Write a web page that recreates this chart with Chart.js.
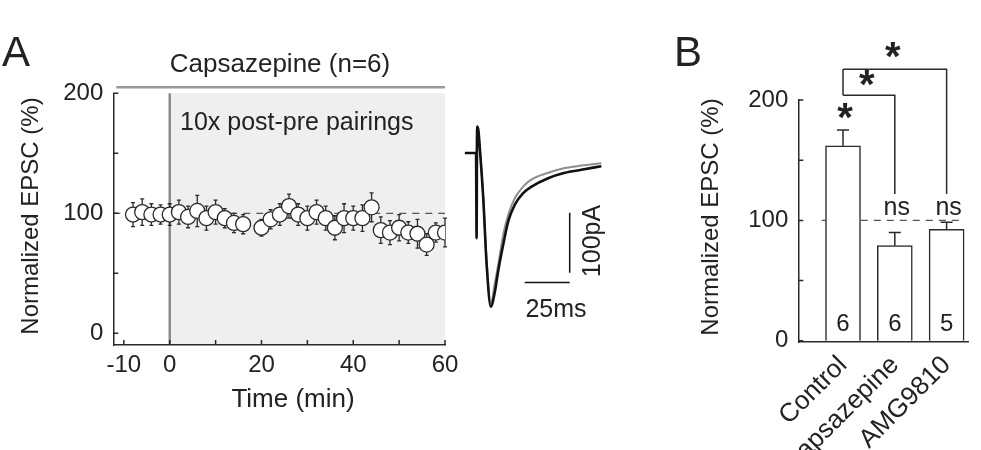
<!DOCTYPE html>
<html>
<head>
<meta charset="utf-8">
<script src="https://cdn.jsdelivr.net/npm/chart.js@4.4.1/dist/chart.umd.min.js"></script>
<style>
  body { margin: 0; background: #fff; width: 981px; height: 450px; overflow: hidden; position: relative;
         font-family: "Liberation Sans", Arial, sans-serif; color: #222; }
  canvas { position: absolute; }
  .t { position: absolute; white-space: nowrap; line-height: 1; transform: translate(-50%, -50%); }
  .v { transform: translate(-50%, -50%) rotate(-90deg); }
</style>
</head>
<body>
<canvas id="timeChart" width="475" height="450" style="left:0;top:0"></canvas>
<canvas id="traceChart" width="142" height="189" style="left:464px;top:123px"></canvas>
<canvas id="barChart" width="341" height="450" style="left:640px;top:0"></canvas>

<div class="t" style="left:16px;top:52px;font-size:42px">A</div>
<div class="t" style="left:688px;top:52px;font-size:42px">B</div>
<div class="t" style="left:280px;top:63px;font-size:26px">Capsazepine (n=6)</div>
<div class="t" style="left:180px;top:121px;font-size:25px;transform:translate(0,-50%)">10x post-pre pairings</div>
<div class="t v" style="left:30px;top:216px;font-size:24px">Normalized EPSC (%)</div>
<div class="t" style="left:293px;top:398px;font-size:26px">Time (min)</div>
<div class="t v" style="left:591px;top:241px;font-size:25px">100pA</div>
<div class="t" style="left:556px;top:308px;font-size:25px">25ms</div>
<div class="t v" style="left:710px;top:217px;font-size:24px">Normalized EPSC (%)</div>

<script>
// panel A: time course (min, % of baseline)
const times = [-8, -6, -4, -2, 0, 2, 4, 6, 8, 10, 12, 14, 16, 20, 22, 24, 26, 28, 30, 32, 34, 36, 38, 40, 42, 44, 46, 48, 50, 52, 54, 56, 58, 60];
const epsc = [99, 101, 99, 99, 99, 101, 97, 102, 96, 101, 96, 92, 91, 88, 95, 99, 106, 99, 96, 101, 96, 88, 96, 96, 96, 105, 86, 84, 88, 84, 83, 74, 84, 84];
const epscSem = [10, 11, 9, 8, 9, 10, 9, 13, 10, 10, 8, 8, 8, 7, 8, 9, 10, 9, 10, 10, 10, 10, 12, 10, 11, 12, 11, 10, 11, 9, 12, 9, 8, 12];
const timeTicks = [-10, 0, 10, 20, 30, 40, 50, 60];
const timeLabels = [-10, 0, 20, 40, 60];
const pctTicks = [0, 50, 100, 150, 200];
const pctLabels = [0, 100, 200];
const pairingStart = 0;
const pairingEnd = 60;
const baseline = 100;

// inset: example EPSC traces (ms, pA), stimulus artifact at 0 ms
const traceTime = [-6.5, -0.3, 0, 0.3, 1, 1.8, 3.7, 5.6, 7.9, 10.2, 12, 14.8, 17.6, 21.3, 25.9, 30.6, 39.8, 49.1, 58.3, 69.4];
const traceBefore = [0, 0, -142, 44, 38, 8, -75, -186, -256, -231, -197, -153, -114, -86, -67, -56, -42, -33, -28, -22];
const traceAfter = [0, 0, 0, 40, 35, 8, -72, -180, -250, -216, -187, -136, -103, -75, -56, -44, -33, -25, -21, -17];
const barPA = [{ x: 51.8, y: -99.5 }, { x: 51.8, y: -199.5 }];
const barMs = [{ x: 26.8, y: -215.7 }, { x: 51.8, y: -215.7 }];

// panel B: summary
const groups = ['Control', 'Capsazepine', 'AMG9810'];
const groupMeans = [162, 79, 92.5];
const groupSem = [13, 11, 6];
const groupN = [6, 6, 5];
const groupSig = ['*', 'ns', 'ns'];
const brackets = [
  { from: 1, to: 2, level: 204, drop: 122, starX: 1.46, starY: 216 },
  { from: 1, to: 3, level: 225.5, drop: 122, starX: 1.96, starY: 239 }
];

const ink = '#2a2a2a';

function drawInwardTicks(chart, id, len) {
  const s = chart.scales[id];
  const ctx = chart.ctx;
  const a = chart.chartArea;
  ctx.save();
  ctx.strokeStyle = ink;
  ctx.lineWidth = 1.5;
  ctx.beginPath();
  s.ticks.forEach((t) => {
    const p = s.getPixelForValue(t.value);
    if (s.isHorizontal()) { ctx.moveTo(p, a.bottom); ctx.lineTo(p, a.bottom - len); }
    else { ctx.moveTo(a.left, p); ctx.lineTo(a.left + len, p); }
  });
  ctx.stroke();
  ctx.restore();
}

const timeDecor = {
  id: 'timeDecor',
  beforeDraw(chart) {
    const { ctx, chartArea: a, scales: { x } } = chart;
    const x0 = x.getPixelForValue(pairingStart);
    const x1 = x.getPixelForValue(pairingEnd);
    ctx.save();
    ctx.fillStyle = '#efefef';
    ctx.fillRect(x0, a.top, x1 - x0, a.bottom - a.top);
    ctx.strokeStyle = '#8c8c8c';
    ctx.lineWidth = 2.5;
    ctx.beginPath();
    ctx.moveTo(x0, a.top); ctx.lineTo(x0, a.bottom);
    ctx.stroke();
    ctx.strokeStyle = '#9a9a9a';
    ctx.beginPath();
    ctx.moveTo(a.left + 3, a.top - 6); ctx.lineTo(x1, a.top - 6);
    ctx.stroke();
    ctx.restore();
  },
  beforeDatasetsDraw(chart) {
    const { ctx, chartArea: a, scales: { x, y } } = chart;
    ctx.save();
    ctx.strokeStyle = '#555';
    ctx.lineWidth = 1.2;
    ctx.setLineDash([7, 6]);
    ctx.beginPath();
    ctx.moveTo(a.left, y.getPixelForValue(baseline));
    ctx.lineTo(a.right, y.getPixelForValue(baseline));
    ctx.stroke();
    ctx.setLineDash([]);
    ctx.strokeStyle = ink;
    ctx.lineWidth = 1.3;
    ctx.beginPath();
    times.forEach((t, i) => {
      const px = x.getPixelForValue(t);
      const top = y.getPixelForValue(epsc[i] + epscSem[i]);
      const bot = y.getPixelForValue(epsc[i] - epscSem[i]);
      ctx.moveTo(px, top); ctx.lineTo(px, bot);
      ctx.moveTo(px - 2, top); ctx.lineTo(px + 2, top);
      ctx.moveTo(px - 2, bot); ctx.lineTo(px + 2, bot);
    });
    ctx.stroke();
    ctx.restore();
  },
  afterDraw(chart) {
    drawInwardTicks(chart, 'x', 5);
    drawInwardTicks(chart, 'y', 5);
  }
};

new Chart(document.getElementById('timeChart'), {
  type: 'scatter',
  data: {
    datasets: [{
      data: times.map((t, i) => ({ x: t, y: epsc[i] })),
      pointRadius: 7.5,
      pointBackgroundColor: '#fff',
      pointBorderColor: ink,
      pointBorderWidth: 1.3
    }]
  },
  options: {
    responsive: false,
    animation: false,
    devicePixelRatio: 1,
    layout: { padding: { left: 0, right: 30, top: 93.3, bottom: 0 } },
    plugins: { legend: { display: false }, tooltip: { enabled: false } },
    scales: {
      x: {
        type: 'linear', min: -12.3, max: 60,
        afterBuildTicks: (s) => { s.ticks = timeTicks.map((v) => ({ value: v })); },
        afterFit: (s) => { s.height = 105; },
        grid: { display: false, drawTicks: false },
        border: { display: true, color: ink, width: 1.5 },
        ticks: { color: '#222', padding: 6, font: { size: 24, family: 'Liberation Sans' },
                 callback: (v) => (timeLabels.includes(v) ? v : '') }
      },
      y: {
        min: -9.7, max: 200,
        afterBuildTicks: (s) => { s.ticks = pctTicks.map((v) => ({ value: v })); },
        afterFit: (s) => { s.width = 113.3; },
        grid: { display: false, drawTicks: false },
        border: { display: true, color: ink, width: 1.5 },
        ticks: { color: '#222', padding: 10, font: { size: 24, family: 'Liberation Sans' },
                 callback: (v) => (pctLabels.includes(v) ? v : '') }
      }
    }
  },
  plugins: [timeDecor]
});

// dataset 0 is painted last, so the black trace goes first to sit on top
new Chart(document.getElementById('traceChart'), {
  type: 'line',
  data: {
    datasets: [
      { data: traceTime.map((t, i) => ({ x: t, y: traceBefore[i] })), borderColor: '#111', borderWidth: 2.6, cubicInterpolationMode: 'monotone' },
      { data: traceTime.map((t, i) => ({ x: t, y: traceAfter[i] })), borderColor: '#8f8f8f', borderWidth: 2, cubicInterpolationMode: 'monotone' },
      { data: barPA, borderColor: '#111', borderWidth: 1.5 },
      { data: barMs, borderColor: '#111', borderWidth: 1.5 }
    ]
  },
  options: {
    responsive: false,
    animation: false,
    devicePixelRatio: 1,
    layout: { padding: 0 },
    elements: { point: { radius: 0 } },
    plugins: { legend: { display: false }, tooltip: { enabled: false } },
    scales: {
      x: { type: 'linear', min: -7, max: 72, display: false },
      y: { min: -265, max: 50, display: false }
    }
  }
});

const barDecor = {
  id: 'barDecor',
  beforeDatasetsDraw(chart) {
    const { ctx, scales: { x, y } } = chart;
    ctx.save();
    ctx.strokeStyle = '#555';
    ctx.lineWidth = 1.2;
    ctx.setLineDash([7, 6]);
    ctx.beginPath();
    ctx.moveTo(x.getPixelForValue(0.59), y.getPixelForValue(baseline));
    ctx.lineTo(x.getPixelForValue(3.29), y.getPixelForValue(baseline));
    ctx.stroke();
    ctx.restore();
  },
  afterDatasetsDraw(chart) {
    const { ctx, scales: { x, y } } = chart;
    ctx.save();
    ctx.strokeStyle = ink;
    ctx.fillStyle = '#222';
    ctx.lineWidth = 1.5;
    ctx.beginPath();
    groupMeans.forEach((m, i) => {
      const px = x.getPixelForValue(i + 1);
      const top = y.getPixelForValue(m + groupSem[i]);
      ctx.moveTo(px, y.getPixelForValue(m)); ctx.lineTo(px, top);
      ctx.moveTo(px - 6, top); ctx.lineTo(px + 6, top);
    });
    brackets.forEach((b) => {
      const xa = x.getPixelForValue(b.from);
      const xb = x.getPixelForValue(b.to);
      const ly = y.getPixelForValue(b.level);
      ctx.moveTo(xa, ly); ctx.lineTo(xb, ly); ctx.lineTo(xb, y.getPixelForValue(b.drop));
      ctx.moveTo(xa, ly); ctx.lineTo(xa, y.getPixelForValue(204));
    });
    ctx.stroke();

    ctx.textAlign = 'center';
    ctx.textBaseline = 'middle';
    ctx.font = '24px "Liberation Sans"';
    groupN.forEach((n, i) => {
      ctx.fillText(String(n), x.getPixelForValue(i + 1), y.getPixelForValue(14));
    });
    groupSig.forEach((s, i) => {
      const px = x.getPixelForValue(i + 1);
      if (s === 'ns') {
        ctx.font = '25px "Liberation Sans"';
        ctx.fillText(s, px + 2, y.getPixelForValue(110));
      } else {
        ctx.font = 'bold 40px "Liberation Sans"';
        ctx.fillText(s, px + 2, y.getPixelForValue(188) + 6);
      }
    });
    ctx.font = 'bold 40px "Liberation Sans"';
    brackets.forEach((b) => {
      ctx.fillText('*', x.getPixelForValue(b.starX), y.getPixelForValue(b.starY) + 6);
    });
    ctx.restore();
  },
  afterDraw(chart) {
    drawInwardTicks(chart, 'y', 5);
  }
};

new Chart(document.getElementById('barChart'), {
  type: 'bar',
  data: {
    datasets: [{
      data: groupMeans.map((m, i) => ({ x: i + 1, y: m })),
      backgroundColor: '#fff',
      borderColor: ink,
      borderWidth: 1.5,
      barThickness: 35
    }]
  },
  options: {
    responsive: false,
    animation: false,
    devicePixelRatio: 1,
    layout: { padding: { left: 0, right: 13, top: 100, bottom: 0 } },
    plugins: { legend: { display: false }, tooltip: { enabled: false } },
    scales: {
      x: {
        type: 'linear', min: 0.137, max: 3.413, offset: false,
        afterBuildTicks: (s) => { s.ticks = groups.map((g, i) => ({ value: i + 1 })); },
        afterFit: (s) => { s.height = 108; },
        grid: { display: false, drawTicks: false },
        border: { display: true, color: ink, width: 1.5 },
        ticks: { color: '#222', padding: 8, minRotation: 45, maxRotation: 45, autoSkip: false,
                 font: { size: 26, family: 'Liberation Sans' },
                 callback: (v, i) => groups[i] }
      },
      y: {
        min: -1, max: 200,
        afterBuildTicks: (s) => { s.ticks = pctTicks.map((v) => ({ value: v })); },
        afterFit: (s) => { s.width = 158.3; },
        grid: { display: false, drawTicks: false },
        border: { display: true, color: ink, width: 1.5 },
        ticks: { color: '#222', padding: 10, font: { size: 24, family: 'Liberation Sans' },
                 callback: (v) => (pctLabels.includes(v) ? v : '') }
      }
    }
  },
  plugins: [barDecor]
});
</script>
</body>
</html>
